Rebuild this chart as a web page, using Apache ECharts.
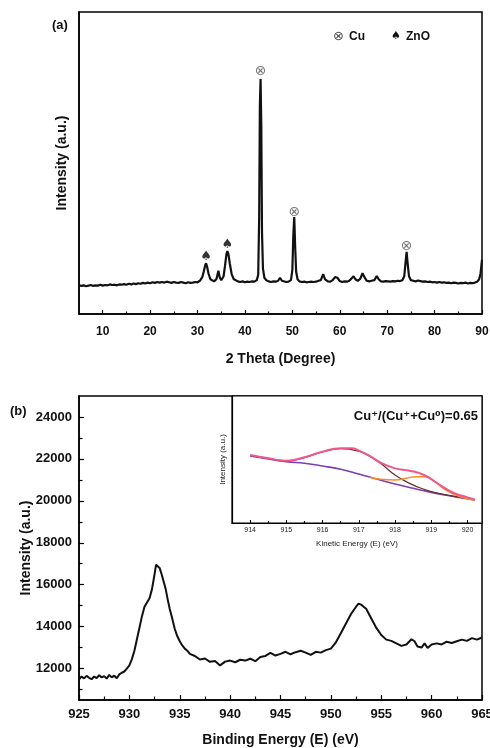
<!DOCTYPE html>
<html>
<head>
<meta charset="utf-8">
<script src="https://cdn.jsdelivr.net/npm/echarts@6/dist/echarts.min.js"></script>
<style>html,body{margin:0;padding:0;background:#fff}#c{width:490px;height:748px}</style>
</head>
<body>
<div id="c"></div>
<script>
// ---------- (a) XRD pattern: [2theta, intensity (a.u.)] ----------
var xrdPoints = [
[5,96],[5.5,93],[6,95],[6.5,92],[7,94],[7.5,96],[8,93],[8.5,95],[9,94],[9.5,97],[10,94],[10.5,96],[11,95],[11.5,98],[12,96],[12.5,97],[13,95],[13.5,98],[14,97],[14.5,99],[15,97],[15.5,100],[16,98],[16.5,101],[17,99],[17.5,102],[18,100],[18.5,103],[19,101],[19.5,104],[20,102],[20.5,105],[21,103],[21.5,106],[22,104],[22.5,106],[23,104],[23.5,107],[24,105],[24.5,103],[25,106],[25.5,104],[26,103],[26.5,106],[27,104],[27.5,102],[28,105],[28.5,103],[29,104],[29.5,106],[30,105],[30.5,110],
[31,122],[31.3,140],[31.6,160],[31.8,168],[32.0,158],[32.3,135],[32.7,115],[33,109],[33.5,108],[34,116],[34.4,143],[34.7,120],[35,112],[35.5,125],[35.8,160],[36.1,198],[36.3,208],[36.5,200],[36.8,168],[37.2,132],[37.6,116],[38,110],[38.5,108],[39,106],[39.5,108],[40,105],[40.5,107],[41,106],[41.5,108],[42,107],[42.5,112],[42.8,130],[43.0,320],[43.15,690],[43.3,778],[43.45,620],[43.6,270],[43.8,150],[44.1,120],[44.5,112],[45,108],[45.5,106],[46,108],[46.5,107],[47,110],[47.4,120],[47.8,110],[48.2,107],[48.7,106],[49.2,107],[49.7,112],[50.0,145],[50.2,260],[50.4,321],[50.6,220],[50.8,140],[51.1,115],[51.5,108],[52,106],[52.5,107],[53,105],[53.5,106],[54,107],[54.5,106],[55,107],[55.5,110],[56,112],[56.5,132],[56.9,115],[57.5,108],[58,107],[58.5,112],[59,122],[59.5,120],[60,109],[60.5,106],[61,108],[61.5,107],[62,110],[62.5,118],[62.9,125],[63.3,115],[63.8,110],[64.3,116],[64.8,135],[65.2,122],[65.7,110],[66.2,108],[66.7,110],[67.3,112],[67.8,126],[68.2,115],[68.7,108],[69.2,107],[69.7,109],[70.2,108],[70.7,107],[71.2,109],[71.7,108],[72.2,110],[72.7,109],[73.2,112],[73.6,125],[73.9,175],[74.1,206],[74.3,170],[74.6,125],[75,112],[75.5,110],[76,108],[76.5,111],[77,109],[77.5,107],[78,108],[78.5,106],[79,107],[79.5,105],[80,106],[80.5,104],[81,106],[81.5,104],[82,105],[82.5,103],[83,104],[83.5,102],[84,104],[84.5,103],[85,101],[85.5,103],[86,102],[86.5,104],[87,101],[87.5,103],[88,102],[88.5,104],[89,107],[89.4,115],[89.7,135],[90,180]
];
var cuMarks = [[43.3,803],[50.4,337],[74.1,224]];
var znoMarks = [[31.8,190],[36.3,229]];
var xrdMajorTicks = [10,20,30,40,50,60,70,80,90];
var xrdMinorTicks = [15,25,35,45,55,65,75,85];

// ---------- (b) XPS Cu 2p: [binding energy (eV), intensity] ----------
var xpsPoints = [
[925,11480],[925.25,11620],[925.5,11530],[925.75,11650],[926,11560],[926.25,11490],[926.5,11620],[926.75,11540],[927,11680],[927.25,11580],[927.5,11640],[927.75,11520],[928,11700],[928.25,11580],[928.5,11660],[928.75,11540],[929,11720],[929.25,11800],[929.5,11860],[929.75,12000],[930,12150],[930.25,12450],[930.5,12850],[930.75,13400],[931,13950],[931.25,14500],[931.5,14950],[931.75,15150],[932,15350],[932.25,15800],[932.5,16500],[932.65,16950],[932.8,17000],[933,16800],[933.2,16500],[933.4,16150],[933.6,15800],[933.8,15300],[934,14850],[934.25,14400],[934.5,13900],[934.75,13550],[935,13300],[935.25,13100],[935.5,12950],[935.75,12850],[936,12700],[936.5,12600],[937,12430],[937.5,12480],[938,12320],[938.5,12360],[939,12150],[939.5,12330],[940,12380],[940.5,12300],[941,12420],[941.5,12380],[942,12470],[942.5,12350],[943,12550],[943.5,12600],[944,12750],[944.5,12620],[945,12700],[945.5,12800],[946,12680],[946.5,12780],[947,12850],[947.5,12760],[948,12650],[948.5,12800],[949,12760],[949.5,12880],[950,12950],[950.5,13250],[951,13700],[951.5,14150],[952,14600],[952.5,14950],[952.75,15100],[953,15050],[953.25,14950],[953.5,14850],[954,14400],[954.5,13950],[955,13600],[955.5,13380],[956,13320],[956.5,13200],[957,13080],[957.5,13150],[958,13400],[958.3,13300],[958.6,13050],[959,13000],[959.3,13200],[959.6,12980],[960,13150],[960.5,13200],[961,13150],[961.5,13280],[962,13220],[962.5,13300],[963,13380],[963.5,13320],[964,13450],[964.5,13380],[965,13480]
];
var xpsYLabels = [12000,14000,16000,18000,20000,22000,24000];
var xpsYMinor = [11000,13000,15000,17000,19000,21000,23000];
var xpsXMinor = [927.5,932.5,937.5,942.5,947.5,952.5,957.5,962.5];

// ---------- inset: Cu LMM Auger fit, [kinetic energy (eV), intensity (a.u.)] ----------
var augerRaw = [
[914.00,54.3],[914.14,52.8],[914.28,43.8],[914.32,51.7],[914.42,50.1],[914.56,50.9],[914.65,50.4],[914.88,46.5],[914.97,45.7],[915.02,49.6],[915.16,49.6],[915.30,50.7],[915.44,51.7],[915.57,52.8],[915.71,52.8],[915.81,54.3],[915.94,53.5],[916.04,57.5],[916.13,58.8],[916.27,58.0],[916.36,58.8],[916.50,51.7],[916.55,53.5],[916.69,62.2],[916.87,65.4],[916.96,51.7],[917.01,49.6],[917.19,57.5],[917.29,56.2],[917.43,55.4],[917.52,53.5],[917.61,49.6],[917.70,48.3],[917.80,47.0],[917.98,43.0],[918.12,39.6],[918.26,42.3],[918.35,40.4],[918.49,40.4],[918.63,36.5],[918.72,40.4],[918.81,39.1],[918.86,37.8],[918.95,33.9],[919.09,36.0],[919.19,31.8],[919.28,23.4],[919.37,28.1],[919.56,28.6],[919.65,26.0],[919.74,24.7],[919.83,23.4],[919.93,20.2],[920.02,21.3],[920.06,13.4],[920.11,22.0],[920.16,18.6]
];
var augerEnvelope = [[914,53.5],[914.5,50.9],[915,49.0],[915.5,51.7],[916,56.2],[916.5,58.8],[916.8,58.8],[917,57.0],[917.3,52.8],[917.6,47.5],[918,43.0],[918.4,41.2],[918.8,37.8],[919.2,30.7],[919.6,23.9],[920,20.2],[920.2,18.6]];
var augerBackground = [[914,52.8],[914.5,50.4],[915,48.3],[915.5,47.0],[916,44.9],[916.5,42.3],[917,38.6],[917.5,34.6],[918,30.7],[918.5,27.3],[919,24.1],[919.5,21.5],[920,19.1],[920.2,18.1]];
var augerCuPlus = [[914,53.3],[914.5,51.0],[915,49.0],[915.5,51.5],[916,56.0],[916.5,58.5],[917,56.5],[917.3,52.5],[917.6,47.0],[918,37.8],[918.4,31.2],[918.8,26.5],[919.2,23.3],[919.6,21.2],[920,19.1],[920.2,18.1]];
var augerCu0 = [[917.3,36.0],[917.6,34.4],[918,33.9],[918.3,35.2],[918.6,36.5],[918.85,36.5],[919.1,32.5],[919.4,26.0],[919.8,20.7],[920.2,18.1]];
var augerMajor = [914,915,916,917,918,919,920];
var augerMinor = [914.5,915.5,916.5,917.5,918.5,919.5];

var FONT = "'Liberation Sans', Arial, sans-serif";
var chart = echarts.init(document.getElementById('c'), null, {renderer: 'canvas'});

function tickAxis(gridIndex, min, max, values, len) {
  return {
    type: 'value', gridIndex: gridIndex, min: min, max: max, position: 'bottom',
    axisLine: {show: false},
    axisTick: {show: true, inside: true, length: len, customValues: values, lineStyle: {color: '#000', width: 1.2}},
    axisLabel: {show: false}, splitLine: {show: false}
  };
}

var option = {
  backgroundColor: '#fff',
  animation: false,
  textStyle: {fontFamily: FONT},
  grid: [
    {left: 79, right: 8, top: 12, bottom: 434, outerBoundsMode: 'none', containLabel: false, show: true, borderColor: '#000', borderWidth: 1.5, backgroundColor: 'transparent'},
    {left: 79, right: 8, top: 396, bottom: 48, outerBoundsMode: 'none', containLabel: false, show: true, borderColor: '#000', borderWidth: 1.5, backgroundColor: 'transparent'},
    {left: 232, right: 8, top: 396, bottom: 225, outerBoundsMode: 'none', containLabel: false, show: true, borderColor: '#000', borderWidth: 1.2, backgroundColor: '#fff', z: 5}
  ],
  xAxis: [
    {
      type: 'value', gridIndex: 0, min: 5, max: 90,
      axisLine: {lineStyle: {color: '#000', width: 1.5}},
      axisTick: {inside: true, length: 4, customValues: xrdMajorTicks, lineStyle: {color: '#000', width: 1.2}},
      axisLabel: {customValues: xrdMajorTicks, color: '#111', fontSize: 12, fontWeight: 'bold', fontFamily: FONT, margin: 12},
      splitLine: {show: false},
      name: '2 Theta (Degree)', nameLocation: 'middle', nameGap: 38,
      nameTextStyle: {fontSize: 14, fontWeight: 'bold', color: '#111', fontFamily: FONT}
    },
    tickAxis(0, 5, 90, xrdMinorTicks, 2.5),
    {
      type: 'value', gridIndex: 1, min: 925, max: 965, interval: 5,
      axisLine: {lineStyle: {color: '#000', width: 1.5}},
      axisTick: {inside: true, length: 5, lineStyle: {color: '#000', width: 1.2}},
      axisLabel: {color: '#111', fontSize: 13, fontWeight: 'bold', fontFamily: FONT, margin: 8},
      splitLine: {show: false},
      name: 'Binding Energy (E) (eV)', nameLocation: 'middle', nameGap: 33,
      nameTextStyle: {fontSize: 14, fontWeight: 'bold', color: '#111', fontFamily: FONT}
    },
    tickAxis(1, 925, 965, xpsXMinor, 3.5),
    {
      type: 'value', gridIndex: 2, min: 913.5, max: 920.4,
      axisLine: {lineStyle: {color: '#000', width: 1.2}},
      axisTick: {inside: true, length: 3, customValues: augerMajor, lineStyle: {color: '#000', width: 1}},
      axisLabel: {customValues: augerMajor, color: '#222', fontSize: 7, fontFamily: FONT, margin: 4},
      splitLine: {show: false},
      name: 'Kinetic Energy (E) (eV)', nameLocation: 'middle', nameGap: 17,
      nameTextStyle: {fontSize: 8, color: '#222', fontFamily: FONT}, z: 6
    },
    Object.assign(tickAxis(2, 913.5, 920.4, augerMinor, 2), {z: 6})
  ],
  yAxis: [
    {
      type: 'value', gridIndex: 0, min: 0, max: 1000,
      axisLine: {show: true, lineStyle: {color: '#000', width: 1.5}},
      axisTick: {show: false}, axisLabel: {show: false}, splitLine: {show: false},
      name: 'Intensity (a.u.)', nameLocation: 'middle', nameGap: 10,
      nameTextStyle: {fontSize: 14, fontWeight: 'bold', color: '#111', fontFamily: FONT}
    },
    {
      type: 'value', gridIndex: 1, min: 10500, max: 25000,
      axisLine: {show: true, lineStyle: {color: '#000', width: 1.5}},
      axisTick: {inside: true, length: 5, customValues: xpsYLabels, lineStyle: {color: '#000', width: 1.2}},
      axisLabel: {customValues: xpsYLabels, formatter: function (v) { return String(v); }, color: '#111', fontSize: 13, fontWeight: 'bold', fontFamily: FONT, margin: 7},
      splitLine: {show: false},
      name: 'Intensity (a.u.)', nameLocation: 'middle', nameGap: 46, nameMoveOverlap: false,
      nameTextStyle: {fontSize: 14, fontWeight: 'bold', color: '#111', fontFamily: FONT}
    },
    {
      type: 'value', gridIndex: 1, min: 10500, max: 25000, position: 'left',
      axisLine: {show: false},
      axisTick: {show: true, inside: true, length: 3.5, customValues: xpsYMinor, lineStyle: {color: '#000', width: 1.2}},
      axisLabel: {show: false}, splitLine: {show: false}
    },
    {
      type: 'value', gridIndex: 2, min: 0, max: 100,
      axisLine: {show: true, lineStyle: {color: '#000', width: 1.2}},
      axisTick: {show: false}, axisLabel: {show: false}, splitLine: {show: false},
      name: 'Intensity (a.u.)', nameLocation: 'middle', nameGap: 5,
      nameTextStyle: {fontSize: 8, color: '#222', fontFamily: FONT}, z: 6
    }
  ],
  series: [
    {
      name: 'XRD', type: 'line', xAxisIndex: 0, yAxisIndex: 0, data: xrdPoints,
      showSymbol: false, lineStyle: {color: '#111', width: 2.2}
    },
    {
      name: 'Cu', type: 'scatter', xAxisIndex: 0, yAxisIndex: 0, data: cuMarks, z: 10,
      symbolSize: 2, itemStyle: {color: 'rgba(0,0,0,0)'},
      label: {show: true, position: 'inside', formatter: '\u2297', fontSize: 14, color: '#555', fontFamily: "'DejaVu Sans', sans-serif"}
    },
    {
      name: 'ZnO', type: 'scatter', xAxisIndex: 0, yAxisIndex: 0, data: znoMarks, z: 10,
      symbolSize: 2, itemStyle: {color: 'rgba(0,0,0,0)'},
      label: {show: true, position: 'inside', formatter: '\u2660', fontSize: 13, color: '#000', fontFamily: "'DejaVu Sans', sans-serif"}
    },
    {
      name: 'XPS', type: 'line', xAxisIndex: 2, yAxisIndex: 1, data: xpsPoints,
      showSymbol: false, lineStyle: {color: '#111', width: 2}
    },
    {
      name: 'raw', type: 'scatter', xAxisIndex: 4, yAxisIndex: 3, data: augerRaw, z: 7,
      symbol: 'emptyCircle', symbolSize: 4, itemStyle: {color: '#fff', borderColor: '#c49aa3', borderWidth: 0.8}
    },
    {
      name: 'background', type: 'line', xAxisIndex: 4, yAxisIndex: 3, data: augerBackground, z: 8,
      smooth: true, showSymbol: false, lineStyle: {color: '#7b3fb3', width: 1.6}
    },
    {
      name: 'Cu+', type: 'line', xAxisIndex: 4, yAxisIndex: 3, data: augerCuPlus, z: 8,
      smooth: true, showSymbol: false, lineStyle: {color: '#6b2e2e', width: 1.2}
    },
    {
      name: 'Cu0', type: 'line', xAxisIndex: 4, yAxisIndex: 3, data: augerCu0, z: 8,
      smooth: true, showSymbol: false, lineStyle: {color: '#ff8a24', width: 1.5}
    },
    {
      name: 'envelope', type: 'line', xAxisIndex: 4, yAxisIndex: 3, data: augerEnvelope, z: 9,
      smooth: true, showSymbol: false, lineStyle: {color: '#f2558a', width: 2}
    }
  ],
  graphic: [
    {type: 'text', left: 52, top: 19, z: 20, style: {text: '(a)', font: 'bold 13px ' + FONT, fill: '#111'}},
    {type: 'text', left: 10, top: 405, z: 20, style: {text: '(b)', font: 'bold 13px ' + FONT, fill: '#111'}},
    {type: 'text', left: 333, top: 30, z: 20, style: {text: '\u2297', font: "13px 'DejaVu Sans', sans-serif", fill: '#444'}},
    {type: 'text', left: 349, top: 31, z: 20, style: {text: 'Cu', font: 'bold 12px ' + FONT, fill: '#111'}},
    {type: 'text', left: 391, top: 31, z: 20, style: {text: '\u2660', font: "11px 'DejaVu Sans', sans-serif", fill: '#111'}},
    {type: 'text', left: 406, top: 31, z: 20, style: {text: 'ZnO', font: 'bold 12px ' + FONT, fill: '#111'}},
    {type: 'text', right: 12, top: 410, z: 20, style: {text: 'Cu\u207A/(Cu\u207A+Cu\u2070)=0.65', font: "bold 13px 'Liberation Sans', 'DejaVu Sans', sans-serif", fill: '#111'}}
  ]
};
chart.setOption(option);
</script>
</body>
</html>
